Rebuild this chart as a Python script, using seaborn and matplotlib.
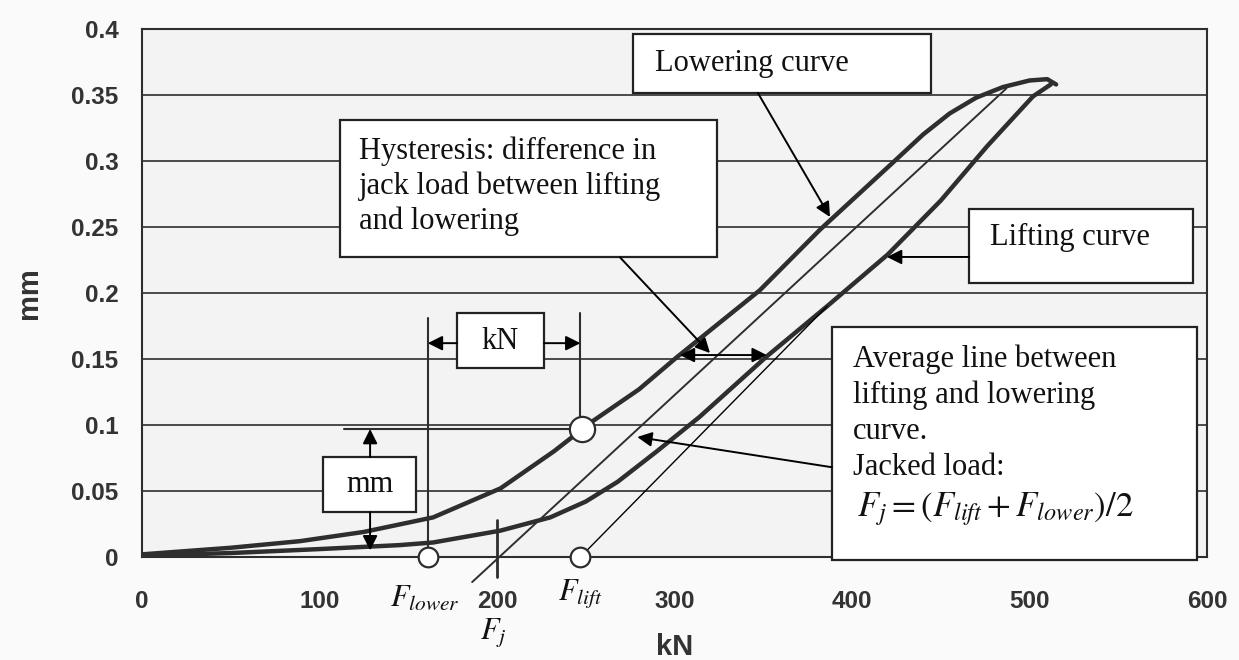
import matplotlib
matplotlib.use("Agg")
import matplotlib.pyplot as plt
from matplotlib.patches import Rectangle
import pandas as pd
import seaborn as sns

# ---------------- data ----------------
lift_kn = [0, 50, 100, 145, 164, 202, 230, 250, 268, 290, 314, 352, 386, 420, 450, 476, 502, 512]
lift_mm = [0.001, 0.003, 0.006, 0.009, 0.011, 0.020, 0.030, 0.042, 0.057, 0.080, 0.106, 0.152,
           0.190, 0.229, 0.270, 0.311, 0.349, 0.358]
lower_kn = [0, 50, 89, 125, 164, 202, 232, 254, 280, 301, 348, 382, 424, 440, 455, 470, 485, 500, 510, 515]
lower_mm = [0.002, 0.007, 0.012, 0.019, 0.030, 0.052, 0.080, 0.103, 0.127, 0.151, 0.202, 0.248,
            0.300, 0.320, 0.336, 0.348, 0.356, 0.361, 0.362, 0.358]
avg_kn = [186, 487]
avg_mm = [-0.019, 0.355]
liftfit_kn = [247, 386]
liftfit_mm = [0.0, 0.190]
marker_kn = [161, 247]
marker_mm = [0.0, 0.0]
hyst_point_kn = [248]
hyst_point_mm = [0.097]
x_ticks = [0, 100, 200, 300, 400, 500, 600]
y_ticks = [0, 0.05, 0.1, 0.15, 0.2, 0.25, 0.3, 0.35, 0.4]
y_tick_labels = ["0", "0.05", "0.1", "0.15", "0.2", "0.25", "0.3", "0.35", "0.4"]

# ---------------- style ----------------
sns.set_style("white", {"axes.facecolor": "#f3f3f3"})
plt.rcParams["font.family"] = ["Liberation Sans", "DejaVu Sans"]
plt.rcParams["mathtext.fontset"] = "stix"

INK = "#2e2e2e"
SERIF = ["Liberation Serif", "DejaVu Serif"]

fig = plt.figure(figsize=(12.39, 6.6), dpi=100, facecolor="#fafafa")
ax = fig.add_axes([142 / 1239, 1 - 557 / 660, (1207 - 142) / 1239, (557 - 29) / 660])

# curves
sns.lineplot(x=lift_kn, y=lift_mm, sort=False, estimator=None, ax=ax, color=INK, lw=3.2, zorder=4)
sns.lineplot(x=lower_kn, y=lower_mm, sort=False, estimator=None, ax=ax, color=INK, lw=3.2, zorder=4)
sns.lineplot(x=avg_kn, y=avg_mm, sort=False, estimator=None, ax=ax, color=INK, lw=1.4, zorder=4)
ax.lines[-1].set_clip_on(False)
sns.lineplot(x=liftfit_kn, y=liftfit_mm, sort=False, estimator=None, ax=ax, color="black", lw=1.0, zorder=4)

# axes
ax.set_xlim(0, 600)
ax.set_ylim(0, 0.4)
ax.set_xticks(x_ticks)
ax.set_yticks(y_ticks)
ax.set_yticklabels(y_tick_labels)
ax.tick_params(axis="both", direction="out", length=7, width=1.4, color=INK,
               labelsize=17.5, labelcolor="#333333")
ax.tick_params(axis="x", pad=17)
ax.tick_params(axis="y", pad=10)
for lab in ax.get_xticklabels() + ax.get_yticklabels():
    lab.set_fontweight("bold")
ax.yaxis.grid(True, color="#4a4a4a", lw=1.4)
ax.xaxis.grid(False)
for s in ax.spines.values():
    s.set_color(INK)
    s.set_linewidth(1.5)
ax.set_xlabel("kN", fontsize=21, fontweight="bold", color="#333333", labelpad=14)
ax.set_ylabel("mm", fontsize=21, fontweight="bold", color="#333333", labelpad=20)

# helper lines
ax.plot([161, 161], [0, 0.181], color=INK, lw=1.5, zorder=5)
ax.plot([247, 247], [0.097, 0.185], color=INK, lw=1.5, zorder=5)
ax.plot([114, 248], [0.097, 0.097], color=INK, lw=1.5, zorder=5)
ax.plot([200, 200], [0.028, -0.015], color=INK, lw=2.0, zorder=5, clip_on=False)

# markers
sns.scatterplot(x=marker_kn, y=marker_mm, ax=ax, s=200, color="white", edgecolor=INK,
                linewidth=1.6, zorder=7, clip_on=False)
sns.scatterplot(x=hyst_point_kn, y=hyst_point_mm, ax=ax, s=330, color="white", edgecolor=INK,
                linewidth=1.6, zorder=7)

# boxes
def box(x0, x1, y0, y1):
    ax.add_patch(Rectangle((x0, y0), x1 - x0, y1 - y0, facecolor="white", edgecolor="#222222",
                           lw=1.6, zorder=8, clip_on=False))

box(276.6, 444.5, 0.3515, 0.396)      # Lowering curve
box(111.5, 324.0, 0.227, 0.331)       # Hysteresis
box(466.0, 592.0, 0.2076, 0.264)      # Lifting curve
box(388.7, 594.4, -0.0023, 0.174)     # Average
box(177.5, 226.5, 0.143, 0.185)       # kN
box(102.0, 154.4, 0.034, 0.0758)      # mm

tk = dict(family=SERIF, color="#111111", zorder=9)
ax.text(289, 0.374, "Lowering curve", fontsize=22, va="center", ha="left", **tk)
ax.text(122, 0.281, "Hysteresis: difference in\njack load between lifting\nand lowering",
        fontsize=22, va="center", ha="left", linespacing=1.25, **tk)
ax.text(478, 0.2417, "Lifting curve", fontsize=22, va="center", ha="left", **tk)
ax.text(400.6, 0.109, "Average line between\nlifting and lowering\ncurve.\nJacked load:",
        fontsize=22, va="center", ha="left", linespacing=1.3, **tk)
ax.text(403, 0.036, r"$F_j=(F_{lift}+F_{lower})/2$", fontsize=25, va="center", ha="left", **tk)
ax.text(201.7, 0.1636, "kN", fontsize=22, va="center", ha="center", **tk)
ax.text(128.5, 0.0553, "mm", fontsize=22, va="center", ha="center", **tk)

tl = dict(color="#111111", zorder=9, clip_on=False)
ax.text(159.4, -0.031, r"$F_{lower}$", fontsize=22, va="center", ha="center", **tl)
ax.text(246.8, -0.028, r"$F_{lift}$", fontsize=22, va="center", ha="center", **tl)
ax.text(197.7, -0.057, r"$F_j$", fontsize=22, va="center", ha="center", **tl)

# arrows
ap = dict(arrowstyle="-|>", color="black", lw=1.4, mutation_scale=22, shrinkA=0, shrinkB=0)
def arrow(x0, y0, x1, y1):
    ax.annotate("", xy=(x1, y1), xytext=(x0, y0), arrowprops=ap, zorder=9, annotation_clip=False)

arrow(347, 0.3515, 387.6, 0.2576)     # lowering pointer
arrow(269.3, 0.227, 320, 0.1545)      # hysteresis pointer
arrow(466, 0.2273, 419.7, 0.2273)     # lifting pointer
arrow(388.7, 0.068, 279, 0.0909)      # average pointer
arrow(177.5, 0.162, 161, 0.162)       # kN left
arrow(226.5, 0.162, 247, 0.162)       # kN right
arrow(128.5, 0.0758, 128.5, 0.097)    # mm up
arrow(128.5, 0.034, 128.5, 0.005)     # mm down
ax.annotate("", xy=(303, 0.153), xytext=(352, 0.153),
            arrowprops=dict(arrowstyle="<|-|>", color="black", lw=1.4, mutation_scale=22,
                            shrinkA=0, shrinkB=0), zorder=9)

fig.savefig("out.png", dpi=100, facecolor=fig.get_facecolor())
